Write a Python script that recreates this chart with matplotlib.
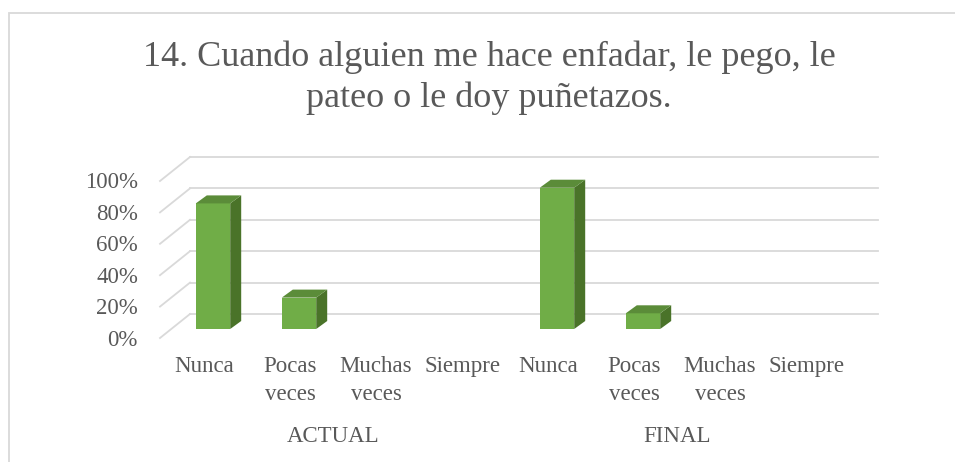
import matplotlib.pyplot as plt
from matplotlib.patches import Polygon, Rectangle

plt.rcParams['font.family'] = ['Liberation Serif', 'DejaVu Serif']

# chart data
title_lines = ["14. Cuando alguien me hace enfadar, le pego, le",
               "pateo o le doy puñetazos."]
groups = ["ACTUAL", "FINAL"]
answers = ["Nunca", "Pocas\nveces", "Muchas\nveces", "Siempre"]
actual = [0.80, 0.20, 0.0, 0.0]
final = [0.90, 0.10, 0.0, 0.0]
yticks = [0.0, 0.2, 0.4, 0.6, 0.8, 1.0]

text_col = '#595959'
grid_col = '#D9D9D9'
front_col = '#70AD47'
top_col = '#5B8C39'
side_col = '#4A7329'

W, H = 955, 462
fig = plt.figure(figsize=(W / 100, H / 100), dpi=100)

# chart border (only top and left edges visible in the crop)
fig.patches.append(Rectangle((9 / W, -0.1), 1.1, (H - 13) / H + 0.1, transform=fig.transFigure,
                             fill=False, edgecolor=grid_col, linewidth=1.3))

# axes = front plane of the bars; 1 category = 86 px, 100% = 157 px
ax = fig.add_axes([170 / W, (H - 329) / H, 688 / W, 157 / H])
ax.set_xlim(-0.5, 7.5)
ax.set_ylim(0, 1)
ax.axis('off')
px = 1 / 86.0   # one pixel in x data units
py = 1 / 157.0  # one pixel in y data units

values = actual + final
labels = answers + answers
n = len(values)

# back wall gridlines and left wall diagonals
back_dx, back_dy = 20 * px, 15 * py
front_dx, front_dy = -10 * px, -9 * py
for v in yticks:
    ax.plot([-0.5 + back_dx, n - 0.5 + back_dx], [v + back_dy, v + back_dy],
            color=grid_col, lw=1.3, clip_on=False, zorder=1)
    ax.plot([-0.5 + front_dx, -0.5 + back_dx], [v + front_dy, v + back_dy],
            color=grid_col, lw=1.3, clip_on=False, zorder=1)
    ax.text(-0.5 - 32 * px, v + front_dy - 2 * py, f"{int(round(v * 100))}%", ha='right', va='center',
            fontsize=16.5, color=text_col)

# 3d bars
bw = 0.2
ddx, ddy = 11 * px, 8 * py
for i, v in enumerate(values):
    if v <= 0:
        continue
    ax.add_patch(Rectangle((i - bw, 0), 2 * bw, v, facecolor=front_col, edgecolor='none', zorder=3))
    ax.add_patch(Polygon([(i + bw, 0), (i + bw, v), (i + bw + ddx, v + ddy), (i + bw + ddx, ddy)],
                         closed=True, facecolor=side_col, edgecolor='none', zorder=3))
    ax.add_patch(Polygon([(i - bw, v), (i + bw, v), (i + bw + ddx, v + ddy), (i - bw + ddx, v + ddy)],
                         closed=True, facecolor=top_col, edgecolor='none', zorder=3))

# category labels (one text per line) and group labels
for i, lab in enumerate(labels):
    for k, part in enumerate(lab.split('\n')):
        ax.text(i - 9 * px, -(43 + 28 * k) * py, part, ha='center', va='baseline',
                fontsize=16.5, color=text_col)
for g, name in enumerate(groups):
    ax.text(g * 4 + 1.5 - 9 * px, -113 * py, name, ha='center', va='baseline',
            fontsize=16.5, color=text_col)

# title
fig.text(489 / W, 1 - 66.5 / H, title_lines[0], ha='center', va='baseline', fontsize=26, color=text_col)
fig.text(489 / W, 1 - 107 / H, title_lines[1], ha='center', va='baseline', fontsize=26, color=text_col)

fig.savefig('out.png', dpi=100, facecolor='white')
